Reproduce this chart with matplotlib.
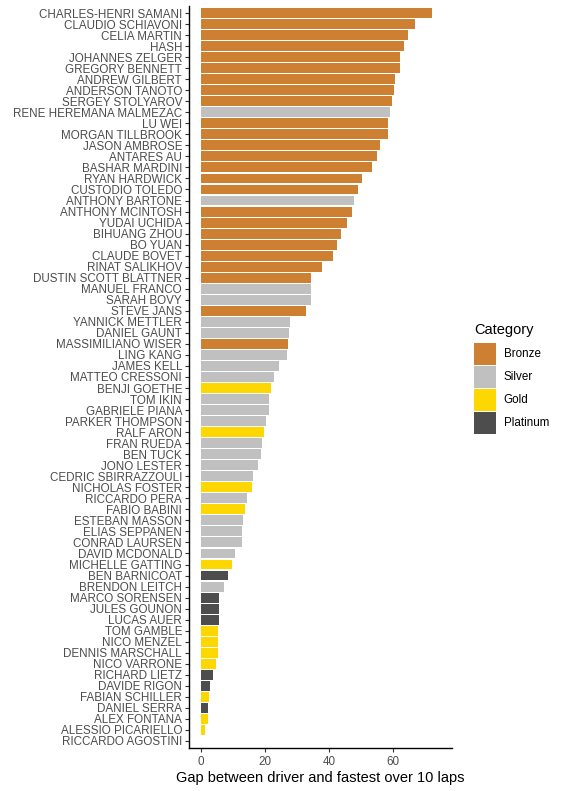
import matplotlib
matplotlib.use("Agg")
import matplotlib.pyplot as plt
from matplotlib.patches import Patch

plt.rcParams['font.family'] = ['Liberation Sans', 'DejaVu Sans']

drivers = [
    "CHARLES-HENRI SAMANI", "CLAUDIO SCHIAVONI", "CELIA MARTIN", "HASH",
    "JOHANNES ZELGER", "GREGORY BENNETT", "ANDREW GILBERT", "ANDERSON TANOTO",
    "SERGEY STOLYAROV", "RENE HEREMANA MALMEZAC", "LU WEI", "MORGAN TILLBROOK",
    "JASON AMBROSE", "ANTARES AU", "BASHAR MARDINI", "RYAN HARDWICK",
    "CUSTODIO TOLEDO", "ANTHONY BARTONE", "ANTHONY MCINTOSH", "YUDAI UCHIDA",
    "BIHUANG ZHOU", "BO YUAN", "CLAUDE BOVET", "RINAT SALIKHOV",
    "DUSTIN SCOTT BLATTNER", "MANUEL FRANCO", "SARAH BOVY", "STEVE JANS",
    "YANNICK METTLER", "DANIEL GAUNT", "MASSIMILIANO WISER", "LING KANG",
    "JAMES KELL", "MATTEO CRESSONI", "BENJI GOETHE", "TOM IKIN",
    "GABRIELE PIANA", "PARKER THOMPSON", "RALF ARON", "FRAN RUEDA",
    "BEN TUCK", "JONO LESTER", "CEDRIC SBIRRAZZOULI", "NICHOLAS FOSTER",
    "RICCARDO PERA", "FABIO BABINI", "ESTEBAN MASSON", "ELIAS SEPPANEN",
    "CONRAD LAURSEN", "DAVID MCDONALD", "MICHELLE GATTING", "BEN BARNICOAT",
    "BRENDON LEITCH", "MARCO SORENSEN", "JULES GOUNON", "LUCAS AUER",
    "TOM GAMBLE", "NICO MENZEL", "DENNIS MARSCHALL", "NICO VARRONE",
    "RICHARD LIETZ", "DAVIDE RIGON", "FABIAN SCHILLER", "DANIEL SERRA",
    "ALEX FONTANA", "ALESSIO PICARIELLO", "RICCARDO AGOSTINI",
]

gaps = [
    72.2, 66.9, 64.7, 63.4, 62.2, 62.2, 60.6, 60.3,
    59.7, 58.8, 58.4, 58.4, 55.9, 55.0, 53.4, 50.3,
    49.1, 47.8, 47.2, 45.6, 43.8, 42.5, 41.3, 37.8,
    34.4, 34.4, 34.4, 32.8, 27.8, 27.5, 27.2, 26.9,
    24.4, 22.8, 21.9, 21.3, 21.3, 20.3, 19.7, 19.1,
    18.8, 17.8, 16.3, 15.9, 14.4, 13.8, 13.1, 12.8,
    12.8, 10.6, 9.7, 8.4, 7.2, 5.6, 5.6, 5.6,
    5.3, 5.3, 5.3, 4.7, 3.8, 2.8, 2.5, 2.2,
    2.2, 1.3, 0.0,
]

categories = [
    "Bronze", "Bronze", "Bronze", "Bronze", "Bronze", "Bronze", "Bronze", "Bronze",
    "Bronze", "Silver", "Bronze", "Bronze", "Bronze", "Bronze", "Bronze", "Bronze",
    "Bronze", "Silver", "Bronze", "Bronze", "Bronze", "Bronze", "Bronze", "Bronze",
    "Bronze", "Silver", "Silver", "Bronze", "Silver", "Silver", "Bronze", "Silver",
    "Silver", "Silver", "Gold", "Silver", "Silver", "Silver", "Gold", "Silver",
    "Silver", "Silver", "Silver", "Gold", "Silver", "Gold", "Silver", "Silver",
    "Silver", "Silver", "Gold", "Platinum", "Silver", "Platinum", "Platinum", "Platinum",
    "Gold", "Gold", "Gold", "Gold", "Platinum", "Platinum", "Gold", "Platinum",
    "Gold", "Gold", "Gold",
]

cat_order = ["Bronze", "Silver", "Gold", "Platinum"]
cat_colors = {"Bronze": "#CD7F32", "Silver": "#C0C0C0",
              "Gold": "#FFD700", "Platinum": "#4D4D4D"}

fig = plt.figure(figsize=(5.68, 7.91), dpi=100)
ax = fig.add_axes([189.3 / 568, 1 - 747.6 / 791, (452 - 189.3) / 568, (747.6 - 6.4) / 791])

ax.barh(drivers, gaps, height=0.9, color=[cat_colors[c] for c in categories])
ax.set_ylim(len(drivers) - 0.4, -0.6)
ax.set_xlim(-3.7, 78.3)
ax.set_xticks([0, 20, 40, 60])

for side in ["top", "right"]:
    ax.spines[side].set_visible(False)
for side in ["left", "bottom"]:
    ax.spines[side].set_linewidth(1.0)
    ax.spines[side].set_color("black")

ax.tick_params(axis="both", colors="#333333", labelcolor="#4D4D4D",
               labelsize=8.4, length=2.75, width=0.8)
ax.tick_params(axis="y", pad=2.5)
ax.tick_params(axis="x", pad=3.2)
ax.set_xlabel("Gap between driver and fastest over 10 laps", fontsize=10.5,
              color="black", labelpad=2)

handles = [Patch(facecolor=cat_colors[c], edgecolor="none", label=c) for c in cat_order]
leg = fig.legend(handles=handles, title="Category", loc="upper left",
                 bbox_to_anchor=(474 / 568, 1 - 323 / 791), frameon=False,
                 fontsize=8.4, title_fontsize=10.5, handlelength=1.9,
                 handleheight=2.52, labelspacing=0.1, handletextpad=0.65,
                 borderpad=0, borderaxespad=0, alignment="left")
leg._legend_box.sep = 4

fig.savefig("out.png", dpi=100)
